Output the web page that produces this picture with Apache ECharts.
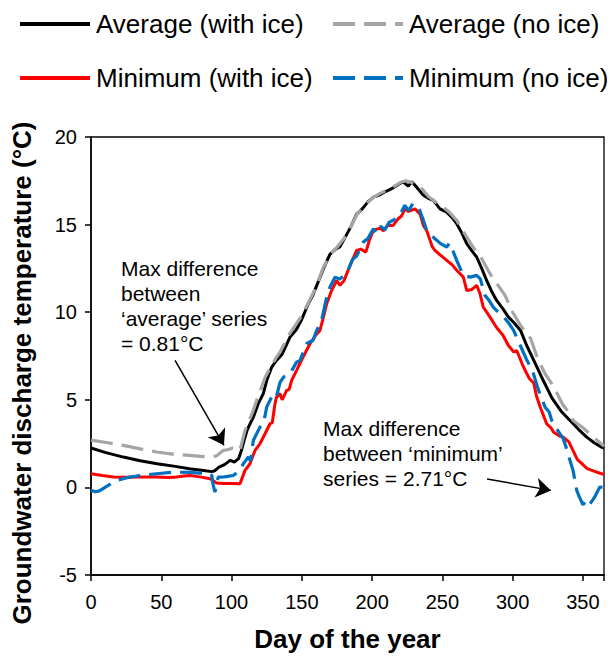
<!DOCTYPE html>
<html>
<head>
<meta charset="utf-8">
<script src="https://cdn.jsdelivr.net/npm/echarts@6/dist/echarts.min.js"></script>
<style>html,body{margin:0;padding:0;background:#fff}#c{width:610px;height:664px}</style>
</head>
<body>
<div id="c"></div>
<script>
// ---- Data ----
const seriesNames = ['Average (with ice)', 'Average (no ice)', 'Minimum (with ice)', 'Minimum (no ice)'];
const xTicks = [0, 50, 100, 150, 200, 250, 300, 350];
const yTicks = [-5, 0, 5, 10, 15, 20];

const avgIceDays = [0,10,23,35,47,60,70,80,86,88,91,95,99,102,105,107,109,111,113,115.5,119,122.6,125,128.6,132,136,141.6,146,150,154.6,158,162,166,170,174,177,181,185,189,193,197,201,205.6,210,215,219,222.2,224,225.8,228.2,231,236.5,240,243.6,248.3,253,257,260.2,264,267.3,271,274.4,278,281.5,285,288.6,293,297,301,305.6,310,315.3,321.8,328,335,340.8,347,352.7,358,363.3,365];
const avgIceVals = [2.25,2.0,1.73,1.52,1.35,1.2,1.07,0.97,0.9,0.95,1.16,1.3,1.54,1.45,1.64,2.11,2.7,3.25,3.6,4.01,4.78,5.35,6.1,6.87,7.25,7.6,8.58,9.0,9.6,10.48,11.0,11.8,12.6,13.3,13.6,13.72,14.3,14.9,15.6,15.9,16.3,16.57,16.7,16.9,17.1,17.3,17.45,17.3,17.2,17.45,17.2,16.67,16.5,16.38,15.9,15.71,15.4,15.05,14.5,13.91,13.5,13.15,12.5,11.81,11.2,10.67,10.2,9.72,9.4,8.96,8.1,7.21,6.1,5.1,4.3,3.82,3.3,2.87,2.55,2.3,2.25];

const avgNoIceDays = [0,12,23,35,46.7,58,70,80,85,89.4,94,97,101,104,106,109.6,112,115.5,118,121.4,124,127.4,131,135,140,145,150,155,160,165,170,175,180,185,190,195,200,205,210,215,220,224,228,232,236,240,245,250.6,255,260.2,265,271.8,278,283.9,289,294.6,300,306,312.8,318,323,327.8,332,336,340,343,350,356.2,360,365];
const avgNoIceVals = [2.7,2.55,2.4,2.2,2.02,1.9,1.83,1.76,1.73,1.8,2.11,2.15,2.25,2.2,2.11,3.25,3.7,4.4,5.0,5.73,6.3,6.8,7.3,7.8,8.6,9.2,9.8,10.6,11.4,12.5,13.3,13.7,14.2,14.9,15.7,16.1,16.5,16.75,16.95,17.15,17.4,17.5,17.4,17.3,17.0,16.6,16.3,16.0,15.7,15.24,14.6,13.72,13.05,12.2,11.6,10.96,10.0,9.2,8.5,7.3,6.5,5.92,5.3,4.68,4.3,3.82,3.4,2.97,2.7,2.35];

const minIceDays = [0,8,16,24,35,47,55,61,66,70.4,77.6,84.7,89.4,94,100,106,109.6,113.1,116.7,120.2,123.8,127.4,129,130.9,132,134.5,136,139.2,141,142.7,146.3,150,155.8,160,162.9,165,167.7,171,174.8,177.2,180,184,189,192,195.6,198,200.9,205.6,208,211,215,218.4,221,223.4,226,230.5,234.1,236.6,238.8,242.7,244.7,248,253.1,257,260.2,264.9,267.3,271,274.4,276.8,279.1,283.9,288.8,293,297,300.8,303,307,310.4,312,315,317,320,324.2,327.3,329,333,336,340,343,346,350,353,358.8,363.3,365];
const minIceVals = [0.78,0.68,0.59,0.58,0.6,0.6,0.57,0.59,0.65,0.68,0.6,0.49,0.25,0.22,0.22,0.21,0.97,1.35,2.11,2.49,3.06,3.63,3.7,4.78,5.15,5.35,5.0,5.54,5.6,6.1,6.68,7.3,8.2,8.7,8.96,9.6,10.48,11.2,11.81,11.53,11.8,12.6,13.53,13.6,13.43,14.1,14.67,14.8,14.65,14.95,14.95,15.32,15.5,15.9,15.75,15.9,15.6,14.93,14.67,13.76,13.53,13.3,12.96,12.7,12.39,12.0,11.24,11.3,11.53,11.05,10.29,9.72,9.1,8.7,8.1,7.73,7.8,7.0,6.44,6.2,5.96,5.2,4.5,3.63,3.4,3.16,2.95,2.87,2.6,2.1,1.6,1.3,1.07,0.9,0.78,0.75];

const minNoIceDays = [0,3,6,10,15,18.3,23,27.7,35,46.7,58.5,70,77.6,84,86,87,88.2,89.4,90.6,95,101.2,105,108.4,112,113.5,115.5,120.2,122.7,125,129.7,132,134.5,137,141.6,146.3,148.7,153.4,158,160.5,164,167.7,170,173.6,177,181.9,186,189,193.7,197,200.9,203,206,209,212,216,220,223.3,226,229,233,236.5,238.8,241,244.7,249,253.1,255,257.2,260.2,264.9,270,274.4,277,280.3,283,286.2,288.8,293,297,300.7,302,306,310.4,314,318,320,323.1,326,327.8,330,333.7,336,338,340.8,343,345.6,347,350,352.7,355,358,362,365];
const minNoIceVals = [-0.17,-0.25,-0.2,0.0,0.25,0.4,0.5,0.59,0.68,0.78,0.87,0.86,0.82,0.8,0.68,0.11,-0.27,0.3,0.59,0.6,0.68,0.9,1.35,1.73,1.5,2.68,3.44,3.63,4.58,5.35,5.2,6.0,6.3,6.49,7.15,7.25,8.2,8.4,8.96,9.5,10.86,11.43,12.0,11.9,12.2,13.0,13.2,14.0,14.2,14.76,14.5,14.9,14.7,15.12,15.3,15.6,16.1,15.8,16.2,16.0,15.24,14.67,14.5,14.19,13.9,13.72,13.95,13.57,12.96,12.1,12.0,12.1,11.9,10.96,10.7,10.29,10.08,9.8,9.4,8.96,8.72,8.0,7.21,6.7,5.65,5.2,4.58,4.3,3.82,3.5,3.06,2.78,2.3,1.54,0.97,-0.17,-0.46,-1.0,-0.7,-0.95,-0.6,0.02,0.0];

const zip = (d, v) => d.map((x, i) => [x, v[i]]);

const FONT = 'Arial, "Liberation Sans", sans-serif';
const chart = echarts.init(document.getElementById('c'), null, { renderer: 'svg' });

function legendAt(name, left, top) {
  return {
    data: [name], left: left, top: top, padding: 0, itemWidth: 70, itemHeight: 14,
    itemStyle: { color: 'rgba(0,0,0,0)', borderWidth: 0, opacity: 0 },
    lineStyle: { width: 4 },
    textStyle: { fontFamily: FONT, fontSize: 26, color: '#000', padding: [0, 0, 0, 1] },
    selectedMode: false
  };
}

chart.setOption({
  animation: false,
  backgroundColor: '#fff',
  legend: [
    legendAt(seriesNames[0], 18, 11),
    legendAt(seriesNames[1], 331, 11),
    legendAt(seriesNames[2], 18, 65),
    legendAt(seriesNames[3], 331, 65)
  ],
  grid: { left: 91, top: 137, right: 6, bottom: 89, show: true, borderColor: '#000', borderWidth: 1.3, containLabel: false },
  xAxis: {
    type: 'value', min: 0, max: 365, interval: 50,
    name: 'Day of the year', nameLocation: 'middle', nameGap: 51,
    nameTextStyle: { fontFamily: FONT, fontSize: 26, fontWeight: 'bold', color: '#000' },
    axisLine: { onZero: false, lineStyle: { color: '#000', width: 1.5 } },
    axisTick: { length: 6, lineStyle: { color: '#000', width: 1.5 } },
    axisLabel: { fontFamily: FONT, fontSize: 20, color: '#000', margin: 17,
      formatter: v => (xTicks.indexOf(v) >= 0 ? String(v) : '') },
    splitLine: { show: false }
  },
  yAxis: {
    type: 'value', min: -5, max: 20, interval: 5,
    name: 'Groundwater discharge temperature (°C)', nameLocation: 'middle', nameGap: 56,
    nameTextStyle: { fontFamily: FONT, fontSize: 26, fontWeight: 'bold', color: '#000', padding: [0, 34, 0, 0] },
    axisLine: { show: true, lineStyle: { color: '#000', width: 1.5 } },
    axisTick: { show: true, length: 6, lineStyle: { color: '#000', width: 1.5 } },
    axisLabel: { fontFamily: FONT, fontSize: 20, color: '#000', margin: 14,
      formatter: v => (yTicks.indexOf(v) >= 0 ? String(v) : '') },
    splitLine: { show: false }
  },
  series: [
    { name: seriesNames[0], type: 'line', data: zip(avgIceDays, avgIceVals), showSymbol: false, symbol: 'none',
      lineStyle: { color: '#000000', width: 3 }, itemStyle: { color: '#000000' }, z: 2,
      markLine: {
        silent: true, symbol: ['none', 'arrow'], symbolSize: 15, label: { show: false },
        lineStyle: { color: '#000', width: 1.5, type: 'solid' },
        itemStyle: { color: '#000' },
        data: [
          [{ coord: [59.8, 7.25] }, { coord: [94.6, 2.4] }],
          [{ coord: [281.8, 0.48] }, { coord: [327.3, -0.17] }]
        ]
      }
    },
    { name: seriesNames[1], type: 'line', data: zip(avgNoIceDays, avgNoIceVals), showSymbol: false, symbol: 'none',
      lineStyle: { color: '#A5A5A5', width: 3.2, type: [22, 9] }, itemStyle: { color: '#A5A5A5' }, z: 3 },
    { name: seriesNames[2], type: 'line', data: zip(minIceDays, minIceVals), showSymbol: false, symbol: 'none',
      lineStyle: { color: '#FF0000', width: 3 }, itemStyle: { color: '#FF0000' }, z: 4 },
    { name: seriesNames[3], type: 'line', data: zip(minNoIceDays, minNoIceVals), showSymbol: false, symbol: 'none',
      lineStyle: { color: '#0070C0', width: 3.2, type: [22, 9] }, itemStyle: { color: '#0070C0' }, z: 5 }
  ],
  graphic: [
    { type: 'text', left: 121, top: 256, z: 10,
      style: { text: 'Max difference\nbetween\n‘average’ series\n= 0.81°C', font: '21px ' + FONT, fill: '#000', lineHeight: 25 } },
    { type: 'text', left: 323, top: 416, z: 10,
      style: { text: 'Max difference\nbetween ‘minimum’\nseries = 2.71°C', font: '21px ' + FONT, fill: '#000', lineHeight: 25 } }
  ]
});
</script>
</body>
</html>
